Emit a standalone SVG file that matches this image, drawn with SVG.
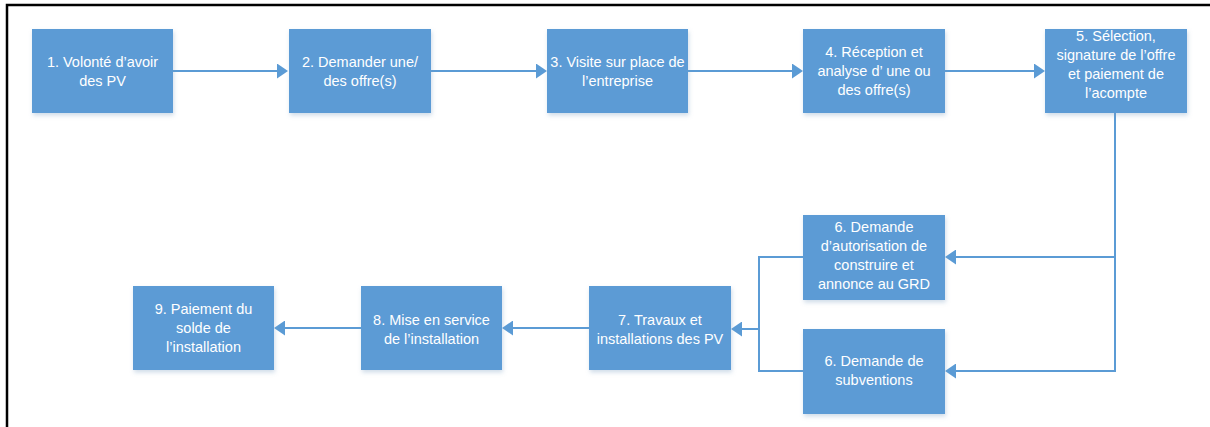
<svg xmlns="http://www.w3.org/2000/svg" width="1210" height="427" viewBox="0 0 1210 427">
  <style>
    .box { fill: #5B9BD5; filter: url(#shadow); }
    .lbl { fill: #ffffff; font-family: "Liberation Sans", Arial, sans-serif; font-size: 14.5px; text-anchor: middle; }
    .conn { fill: none; stroke: #5B9BD5; stroke-width: 2; }
    .frame { stroke: #000000; stroke-width: 2.5; fill: none; }
  </style>
  <defs>
    <filter id="shadow" x="-10%" y="-10%" width="125%" height="130%">
      <feDropShadow dx="1" dy="2.5" stdDeviation="2" flood-color="#7a9cc0" flood-opacity="0.35"/>
    </filter>
    <marker id="arrow" markerUnits="userSpaceOnUse" markerWidth="12" markerHeight="15" refX="1" refY="7.5" orient="auto">
      <path d="M0,0 L11,7.5 L0,15 z" fill="#5B9BD5"/>
    </marker>
  </defs>

  <rect width="1210" height="427" fill="#ffffff"/>

  <!-- frame -->
  <path class="frame" d="M7,427 V5 H1210"/>

  <!-- connectors -->
  <g id="connectors">
    <path class="conn" d="M173,71 H278" marker-end="url(#arrow)"/>
    <path class="conn" d="M431,71 H537" marker-end="url(#arrow)"/>
    <path class="conn" d="M688,71 H793" marker-end="url(#arrow)"/>
    <path class="conn" d="M945,71 H1035" marker-end="url(#arrow)"/>
    <path class="conn" d="M1115,113 V371"/>
    <path class="conn" d="M1115,257 H955" marker-end="url(#arrow)"/>
    <path class="conn" d="M1116,371 H955" marker-end="url(#arrow)"/>
    <path class="conn" d="M803,257 H759 V371 H803"/>
    <path class="conn" d="M759,329 H741" marker-end="url(#arrow)"/>
    <path class="conn" d="M589,328 H512" marker-end="url(#arrow)"/>
    <path class="conn" d="M361,328 H284" marker-end="url(#arrow)"/>
  </g>

  <!-- nodes -->
  <g id="n1">
    <rect class="box" x="32" y="29" width="141" height="84"/>
    <text class="lbl"><tspan x="102.5" y="67">1. Volonté d’avoir</tspan><tspan x="102.5" y="86">des PV</tspan></text>
  </g>
  <g id="n2">
    <rect class="box" x="289" y="29" width="142" height="84"/>
    <text class="lbl"><tspan x="360" y="67">2. Demander une/</tspan><tspan x="360" y="86">des offre(s)</tspan></text>
  </g>
  <g id="n3">
    <rect class="box" x="547" y="29" width="141" height="84"/>
    <text class="lbl"><tspan x="617.5" y="67">3. Visite sur place de</tspan><tspan x="617.5" y="86">l’entreprise</tspan></text>
  </g>
  <g id="n4">
    <rect class="box" x="803" y="29" width="142" height="84"/>
    <text class="lbl"><tspan x="874" y="57">4. Réception et</tspan><tspan x="874" y="76">analyse d’ une ou</tspan><tspan x="874" y="95">des offre(s)</tspan></text>
  </g>
  <g id="n5">
    <rect class="box" x="1045" y="29" width="142" height="84"/>
    <text class="lbl"><tspan x="1116" y="41">5. Sélection,</tspan><tspan x="1116" y="60">signature de l’offre</tspan><tspan x="1116" y="79">et paiement de</tspan><tspan x="1116" y="98">l’acompte</tspan></text>
  </g>
  <g id="n6a">
    <rect class="box" x="803" y="215" width="142" height="85"/>
    <text class="lbl"><tspan x="874" y="232">6. Demande</tspan><tspan x="874" y="251">d’autorisation de</tspan><tspan x="874" y="270">construire et</tspan><tspan x="874" y="289">annonce au GRD</tspan></text>
  </g>
  <g id="n6b">
    <rect class="box" x="803" y="329" width="142" height="85"/>
    <text class="lbl"><tspan x="874" y="366">6. Demande de</tspan><tspan x="874" y="385">subventions</tspan></text>
  </g>
  <g id="n7">
    <rect class="box" x="589" y="286" width="142" height="84"/>
    <text class="lbl"><tspan x="660" y="325">7. Travaux et</tspan><tspan x="660" y="344">installations des PV</tspan></text>
  </g>
  <g id="n8">
    <rect class="box" x="361" y="286" width="141" height="84"/>
    <text class="lbl"><tspan x="431.5" y="325">8. Mise en service</tspan><tspan x="431.5" y="344">de l’installation</tspan></text>
  </g>
  <g id="n9">
    <rect class="box" x="133" y="286" width="141" height="84"/>
    <text class="lbl"><tspan x="203.5" y="314">9. Paiement du</tspan><tspan x="203.5" y="333">solde de</tspan><tspan x="203.5" y="352">l’installation</tspan></text>
  </g>
</svg>
